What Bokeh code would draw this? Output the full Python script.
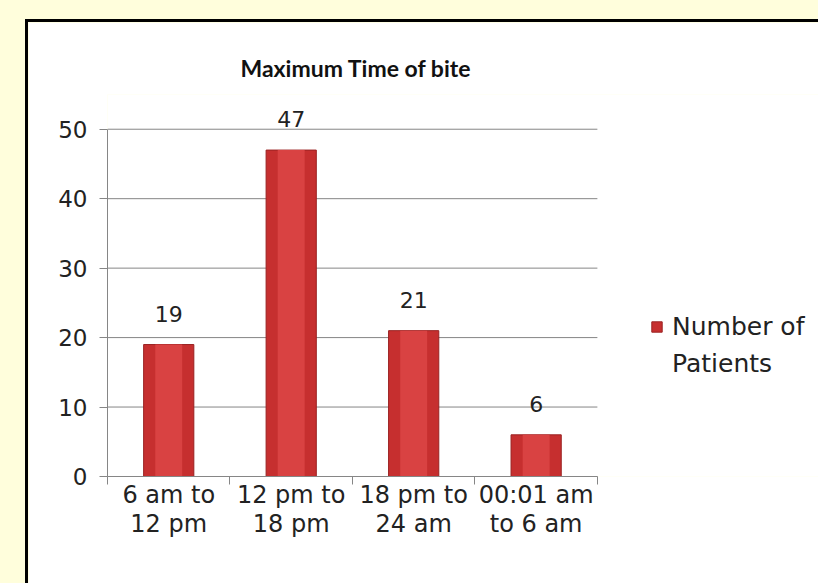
from bokeh.plotting import figure
from bokeh.models import ColumnDataSource, FixedTicker, LabelSet, Legend, LegendItem, Range1d
from bokeh.core.properties import value
from bokeh.layouts import column
from bokeh.embed import file_html
from bokeh.resources import INLINE

categories = ["6 am to\n12 pm", "12 pm to\n18 pm", "18 pm to\n24 am", "00:01 am\nto 6 am"]
patients = [19, 47, 21, 6]
y_ticks = [0, 10, 20, 30, 40, 50]
legend_lines = ["Number of", "Patients"]

n = len(categories)
xs = [i + 0.5 for i in range(n)]
bounds = list(range(n + 1))
src = ColumnDataSource(dict(x=xs, top=patients, label=[str(v) for v in patients]))
grid_src = ColumnDataSource(dict(x0=[0] * len(y_ticks), x1=[n] * len(y_ticks), y=y_ticks))

FONT = "DejaVu Sans"
TXT = "#222222"
gray = "#868686"

# frame spans from the y axis to the right edge of the canvas; categories occupy [0, n]
p = figure(width=793, height=564, x_range=Range1d(0, 5.83), y_range=Range1d(0, 55),
           output_backend="svg", toolbar_location=None,
           min_border_left=79, min_border_right=0, min_border_top=72, min_border_bottom=110)
p.border_fill_color = "white"
p.background_fill_color = "white"
p.outline_line_color = None

p.title.text = "Maximum Time of bite"
p.title.align = "left"
p.title.offset = 133
p.title.text_font = "Lato"
p.title.text_font_size = "23px"
p.title.text_font_style = "bold"
p.title.text_color = "#111111"
p.title.standoff = 25

# horizontal grid lines limited to the category area
p.segment(x0="x0", x1="x1", y0="y", y1="y", source=grid_src, line_color=gray, line_width=1)

r = p.vbar(x="x", top="top", width=0.41, source=src, fill_color="#C62F2F", line_color="#9A2222", line_width=1)
p.vbar(x="x", top="top", width=0.22, source=src, fill_color="#D94242", line_color=None)
blank = p.vbar(x=[], top=[], width=0.41, fill_alpha=0, line_alpha=0)

labels = LabelSet(x="x", y="top", text="label", source=src, y_offset=31, text_align="center",
                  text_baseline="middle", text_font=value(FONT), text_font_size=value("22px"),
                  text_color=TXT)
p.add_layout(labels)

xa = p.xaxis[0]
xa.bounds = (0, n)
xa.ticker = FixedTicker(ticks=xs, minor_ticks=bounds)
xa.major_label_overrides = {x: c for x, c in zip(xs, categories)}
xa.major_tick_out = 0
xa.major_tick_in = 0
xa.minor_tick_out = 8
xa.minor_tick_in = 0
xa.minor_tick_line_color = gray
xa.axis_line_color = gray
xa.major_label_text_font = FONT
xa.major_label_text_font_size = "24px"
xa.major_label_text_color = TXT
xa.major_label_text_line_height = 1.07
xa.major_label_standoff = -4

ya = p.yaxis[0]
ya.ticker = FixedTicker(ticks=y_ticks)
ya.bounds = (0, 50)
ya.major_tick_out = 8
ya.major_tick_in = 0
ya.major_tick_line_color = gray
ya.minor_tick_line_color = None
ya.axis_line_color = gray
ya.major_label_text_font = FONT
ya.major_label_text_font_size = "23px"
ya.major_label_text_color = TXT
ya.major_label_standoff = 12

p.xgrid.visible = False
p.ygrid.visible = False

legend = Legend(items=[LegendItem(label=legend_lines[0], renderers=[r]),
                       LegendItem(label=legend_lines[1], renderers=[blank])],
                location=(543, 98), spacing=7,
                padding=0, margin=0, border_line_color=None, background_fill_alpha=0,
                glyph_width=13, glyph_height=13, label_standoff=9, label_height=30,
                label_text_font=FONT, label_text_font_size="25px", label_text_color=TXT)
p.add_layout(legend, "center")

p.styles = {"border-left": "3px solid #000", "border-top": "3px solid #000"}
layout = column(p, styles={"background-color": "#FFFEDC", "padding": "19px 0 0 25px"})

open("out.html", "w").write(file_html(layout, INLINE))
